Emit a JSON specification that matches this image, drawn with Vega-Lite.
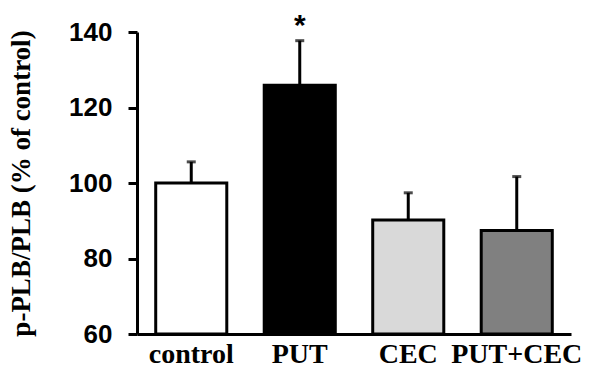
{
  "$schema": "https://vega.github.io/schema/vega-lite/v6.json",
  "width": 434,
  "height": 302,
  "autosize": "none",
  "padding": {"left": 137, "top": 32, "right": 26, "bottom": 37},
  "background": "white",
  "config": {"view": {"stroke": null}},
  "data": {
    "values": [
      {"group": "control", "value": 100, "upper": 105.6, "sig": ""},
      {"group": "PUT", "value": 125.9, "upper": 137.7, "sig": "*"},
      {"group": "CEC", "value": 90.2, "upper": 97.4, "sig": ""},
      {"group": "PUT+CEC", "value": 87.4, "upper": 101.7, "sig": ""}
    ]
  },
  "encoding": {
    "x": {
      "field": "group",
      "type": "nominal",
      "sort": null,
      "scale": {"paddingInner": 0.345, "paddingOuter": 0.1725},
      "axis": {
        "title": null,
        "labelAngle": 0,
        "ticks": false,
        "domainColor": "black",
        "domainWidth": 3,
        "labelFont": "Liberation Serif",
        "labelFontWeight": "bold",
        "labelFontSize": 28,
        "labelColor": "black",
        "labelPadding": 6
      }
    }
  },
  "layer": [
    {
      "mark": {"type": "bar", "stroke": "black", "strokeWidth": 3},
      "encoding": {
        "y": {
          "field": "value",
          "type": "quantitative",
          "scale": {"domain": [60, 140], "nice": false, "zero": false},
          "axis": {
            "values": [60, 80, 100, 120, 140],
            "grid": false,
            "title": "p-PLB/PLB (% of control)",
            "titleFont": "Liberation Serif",
            "titleFontWeight": "bold",
            "titleFontSize": 27,
            "titleColor": "black",
            "titlePadding": 33,
            "domainColor": "black",
            "domainWidth": 3,
            "tickColor": "black",
            "tickWidth": 3,
            "tickSize": 9,
            "labelFont": "Liberation Sans",
            "labelFontWeight": "bold",
            "labelFontSize": 26,
            "labelColor": "black",
            "labelPadding": 16
          }
        },
        "y2": {"datum": 60},
        "fill": {
          "field": "group",
          "type": "nominal",
          "scale": {
            "domain": ["control", "PUT", "CEC", "PUT+CEC"],
            "range": ["#ffffff", "#000000", "#d9d9d9", "#808080"]
          },
          "legend": null
        }
      }
    },
    {
      "mark": {"type": "rule", "color": "black", "strokeWidth": 3},
      "encoding": {
        "y": {"field": "value", "type": "quantitative"},
        "y2": {"field": "upper"}
      }
    },
    {
      "mark": {"type": "tick", "color": "black", "thickness": 3, "size": 9},
      "encoding": {
        "y": {"field": "upper", "type": "quantitative"}
      }
    },
    {
      "mark": {"type": "text", "fontSize": 30, "fontWeight": "bold", "font": "Liberation Sans", "color": "black", "dy": -15, "baseline": "middle"},
      "encoding": {
        "y": {"field": "upper", "type": "quantitative"},
        "text": {"field": "sig"}
      }
    }
  ]
}
